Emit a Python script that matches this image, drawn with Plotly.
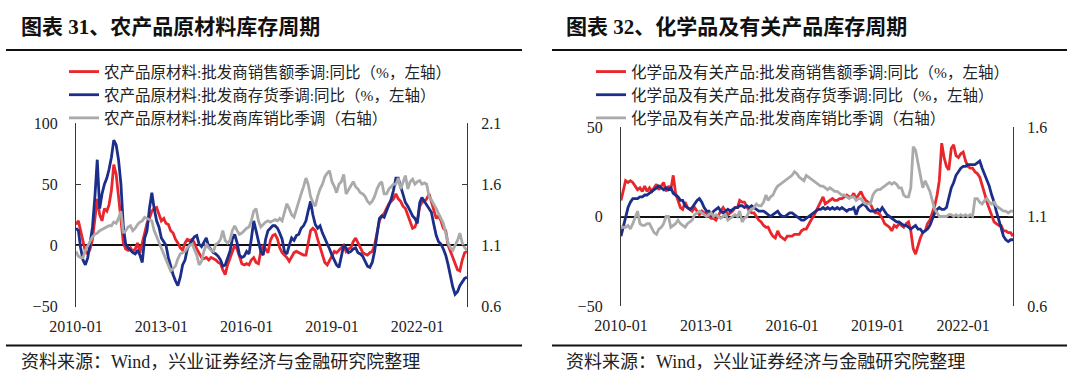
import plotly.graph_objects as go
import pandas as pd

# ---------------- data ----------------
months = pd.date_range("2010-01-01", "2023-10-01", freq="MS").strftime("%Y-%m-%d").tolist()
tick_vals = ["2010-01-01", "2013-01-01", "2016-01-01", "2019-01-01", "2022-01-01"]
tick_text = ["2010-01", "2013-01", "2016-01", "2019-01", "2022-01"]

# 农产品原材料
agri_sales = [
    17, 20, 12, 2, -5, -7, -3, 5, 22, 38, 25, 20,
    30, 28, 33, 45, 66, 58, 40, 22, 2, -3, -4, -2,
    -5, -3, 2, -6, 3, 10, 18, 22, 28, 30, 31, 25,
    20, 22, 18, 17, 12, 10, 5, 2, -2, -4, 2, 5,
    4, 5, 2, -3, -7, -10, -11, -10, -12, -10, -11, -12,
    -14, -15, -20, -24, -16, -10, -5, 0, -3, -10, -15, -16,
    -15, -16, -12, -10, -14, -15, -5, 0, -3, -6, 4, 8,
    9, 5, -2, -6, -8, -10, -13, -10, -6, -5, -6, -7,
    -8, -8, 3, 12, 14, 12, 5, -2, -8, -14, -16, -12,
    -8, -5, -6, -4, -2, 0, -5, -3, -2, 3, 6, 2,
    -2, -6, -7, -8, -6, -5, 0, 10, 20, 24, 26, 30,
    34, 36, 38, 42, 38, 36, 32, 30, 25, 20, 14, 15,
    20, 32, 35, 36, 38, 42, 36, 30, 22, 24, 20, 14,
    12, 0, -5, -9, -15, -20, -21, -12, -6, -5,
]
agri_inv = [
    14, 12, -2, -12, -16, -10, 2, 15, 40, 70, 30, 42,
    50, 55, 62, 72, 86, 82, 70, 50, 15, 1, -2, -4,
    -6, -7, -4, -8, -14, 6, 12, 30, 43, 30, 20, 15,
    6, 3, 0, -10, -18, -24, -29, -33, -26, -16, -12, -3,
    1, 4, 7, 8, 1, -1, 2, 6, -1, -4, -6, -7,
    -9, -12, -17, -16, -10, -5, 5, 9, 2, -8, -10, -9,
    -5, -7, 5, 20, 12, 2, -5, -8, 5, 12, 14, 16,
    16, 14, 10, 5, -5, -7, 0, 6, 4, 8, 9, 14,
    16, 20, 28, 36, 25, 17, 14, 16, 10, 6, 1, -3,
    -8, -12, -16, -18, -8, 0, -2, -6, -5, -3, -2, -6,
    -7, -9, -13, -17, -18, -14, -5, 8, 22, 24, 23, 28,
    33, 38, 45, 55, 55, 48, 40, 35, 32, 28, 24, 22,
    18, 35, 39, 36, 33, 30, 27, 17, 8, 3, 1, -3,
    -8, -16, -26, -34, -40, -38, -33, -30, -27, -26,
]
agri_ratio = [
    1.05, 1.01, 1.00, 1.00, 1.06, 1.10, 1.14, 1.17, 1.19, 1.20, 1.22, 1.23,
    1.24, 1.25, 1.26, 1.26, 1.29, 1.28, 1.32, 1.38, 1.20, 1.22, 1.25, 1.26,
    1.22, 1.24, 1.27, 1.29, 1.30, 1.33, 1.32, 1.31, 1.30, 1.22, 1.17, 1.12,
    1.07, 1.03, 0.98, 0.94, 0.89, 0.91, 0.93, 0.99, 1.03, 1.04, 1.05, 1.08,
    1.10, 1.11, 1.06, 1.02, 0.94, 0.97, 1.05, 1.11, 1.08, 1.06, 1.05, 1.11,
    1.12, 1.15, 1.22, 1.14, 1.12, 1.14, 1.22, 1.26, 1.22, 1.19, 1.20, 1.22,
    1.24, 1.25, 1.30, 1.38, 1.40, 1.30, 1.25, 1.27, 1.29, 1.30, 1.29, 1.30,
    1.31, 1.30, 1.32, 1.30, 1.36, 1.44, 1.40, 1.35, 1.33, 1.40, 1.46, 1.52,
    1.58, 1.65, 1.60, 1.50, 1.45, 1.42, 1.50, 1.56, 1.60, 1.66, 1.69, 1.71,
    1.62, 1.58, 1.53, 1.60, 1.62, 1.68, 1.52, 1.55, 1.58, 1.62, 1.58, 1.56,
    1.53, 1.52, 1.50, 1.46, 1.44, 1.46, 1.50, 1.56, 1.60, 1.62, 1.52, 1.52,
    1.56, 1.58, 1.60, 1.60, 1.65, 1.56, 1.62, 1.67, 1.56, 1.62, 1.64, 1.60,
    1.62, 1.63, 1.60, 1.61, 1.60, 1.50, 1.47, 1.44, 1.40, 1.36, 1.32, 1.28,
    1.20, 1.12, 1.08, 1.06, 1.10, 1.14, 1.20, 1.12, 1.08, 1.06,
]

# 化学品及有关产品
chem_sales = [
    9, 15, 20, 19, 20, 19, 17, 15, 16, 14, 17, 14,
    16, 14, 16, 18, 15, 17, 19, 14, 17, 15, 23, 13,
    9, 5, 4, 8, 5, 4, 3, 5, 3, 1, 3, 2,
    2, 0, -1, -1, -2, 1, 3, 5, 3, 1, 2, 3,
    5, 5, 9, 8, 8, 5, 3, 2, 2, 0, -2, -3,
    -5, -6, -6, -9, -11, -12, -8, -11, -12, -13, -11, -11,
    -11, -10, -10, -10, -8, -7, -7, -4, -2, 0, 3, 6,
    9, 11, 7, 8, 9, 10, 9, 9, 10, 10, 11, 12,
    11, 11, 13, 10, 12, 14, 11, 9, 8, 7, 4, 2,
    2, 1, -1, -4, -5, -6, -8, -5, -6, -4, -5, -6,
    -4, -3, -8, -18, -21, -16, -12, -9, -8, -4, -2, 2,
    6, 12, 20, 41, 33, 28, 26, 38, 40, 34, 33, 35,
    36, 31, 28, 27, 27, 25, 24, 22, 18, 13, 8, 4,
    0, -3, -4, -5, -5, -8, -8, -9, -9, -11,
]
chem_inv = [
    -11, -6, 0, 5, 8, 10, 10, 10, 11, 11, 12, 12,
    13, 14, 15, 16, 17, 16, 15, 16, 15, 16, 13, 12,
    11, 9, 9, 6, 5, 4, 5, 7, 9, 10, 8, 5,
    3, 3, 1, 3, 4, 5, 3, 2, 3, 4, 3, 4,
    5, 5, 6, 6, 5, 6, 5, 6, 5, 4, 3, 3,
    3, 2, 1, 0, 1, 2, 3, 1, 0, 0, 1, 2,
    2, 1, 0, -1, -2, -2, -1, 0, 1, 2, 3, 4,
    4, 5, 4, 5, 4, 5, 4, 5, 4, 5, 4, 3,
    4, 4, 5, 1, 5, 6, 7, 6, 4, 3, 3, 3,
    4, 3, 5, 3, 1, 0, -1, -2, -3, -3, -4, -5,
    -5, -6, -7, -6, -5, -7, -7, -9, -8, -7, -5, -2,
    2, 4, 5, 4, 4, 5, 10, 16, 19, 23, 25, 27,
    28, 28, 29, 29, 29, 29, 30, 31, 27, 24, 20, 17,
    12, 8, 3, -2, -7, -11, -13, -14, -13, -13,
]
chem_ratio = [
    1.04, 1.04, 1.04, 1.05, 1.03, 1.06, 1.09, 1.13, 1.06, 1.05, 1.05, 1.06,
    1.06, 1.03, 1.01, 1.00, 1.03, 1.04, 1.06, 1.10, 1.10, 1.04, 1.05, 1.06,
    1.08, 1.06, 1.05, 1.04, 1.06, 1.07, 1.08, 1.11, 1.12, 1.13, 1.12, 1.11,
    1.10, 1.11, 1.12, 1.10, 1.11, 1.10, 1.09, 1.10, 1.11, 1.08, 1.09, 1.10,
    1.11, 1.10, 1.13, 1.07, 1.09, 1.10, 1.13, 1.14, 1.15, 1.17, 1.16, 1.16,
    1.18, 1.22, 1.19, 1.21, 1.22, 1.25, 1.27, 1.28, 1.29, 1.30, 1.31, 1.32,
    1.33, 1.35, 1.34, 1.32, 1.31, 1.30, 1.33, 1.32, 1.31, 1.30, 1.29, 1.28,
    1.27, 1.27, 1.26, 1.25, 1.26, 1.25, 1.24, 1.24, 1.23, 1.22, 1.22, 1.21,
    1.20, 1.21, 1.21, 1.19, 1.20, 1.20, 1.18, 1.17, 1.17, 1.17, 1.22, 1.24,
    1.25, 1.25, 1.26, 1.27, 1.28, 1.29, 1.28, 1.29, 1.28, 1.26, 1.26, 1.22,
    1.21, 1.21, 1.26, 1.49, 1.47, 1.40, 1.32, 1.26, 1.30, 1.27, 1.24, 1.19,
    1.14, 1.12, 1.10, 1.10, 1.10, 1.10, 1.11, 1.11, 1.10, 1.11, 1.10, 1.11,
    1.10, 1.11, 1.10, 1.11, 1.10, 1.20, 1.20, 1.18, 1.17, 1.19, 1.20, 1.18,
    1.17, 1.18, 1.16, 1.15, 1.14, 1.13, 1.13, 1.12, 1.13, 1.13,
]

left_ticks = [-50, 0, 50, 100]
left_right_ticks = [0.6, 1.1, 1.6, 2.1]
right_ticks = [-50, 0, 50]
right_right_ticks = [0.6, 1.1, 1.6]

names_left = ["农产品原材料:批发商销售额季调:同比（%，左轴）",
              "农产品原材料:批发商存货季调:同比（%，左轴）",
              "农产品原材料:批发商库销比季调（右轴）"]
names_right = ["化学品及有关产品:批发商销售额季调:同比（%，左轴）",
               "化学品及有关产品:批发商存货季调:同比（%，左轴）",
               "化学品及有关产品:批发商库销比季调（右轴）"]
titles = ["图表 31、农产品原材料库存周期", "图表 32、化学品及有关产品库存周期"]
source_text = "资料来源：Wind，兴业证券经济与金融研究院整理"

# ---------------- style ----------------
RED = "#E8262B"
BLUE = "#1B2E8A"
GRAY = "#AAAAAA"
AX = "#3A3A3A"
SERIF = "Liberation Serif, Noto Sans CJK SC"
LW = 2.8
W, H = 1080, 385

def px_x(p):
    return p / W

def px_y(p):
    return 1 - p / H

fig = go.Figure()

fig.add_trace(go.Scatter(x=months, y=agri_sales, name=names_left[0], mode="lines",
                         line=dict(color=RED, width=LW), xaxis="x", yaxis="y", legend="legend"))
fig.add_trace(go.Scatter(x=months, y=agri_inv, name=names_left[1], mode="lines",
                         line=dict(color=BLUE, width=LW), xaxis="x", yaxis="y", legend="legend"))
fig.add_trace(go.Scatter(x=months, y=agri_ratio, name=names_left[2], mode="lines",
                         line=dict(color=GRAY, width=LW), xaxis="x", yaxis="y2", legend="legend"))

fig.add_trace(go.Scatter(x=months, y=chem_sales, name=names_right[0], mode="lines",
                         line=dict(color=RED, width=LW), xaxis="x2", yaxis="y3", legend="legend2"))
fig.add_trace(go.Scatter(x=months, y=chem_inv, name=names_right[1], mode="lines",
                         line=dict(color=BLUE, width=LW), xaxis="x2", yaxis="y3", legend="legend2"))
fig.add_trace(go.Scatter(x=months, y=chem_ratio, name=names_right[2], mode="lines",
                         line=dict(color=GRAY, width=LW), xaxis="x2", yaxis="y4", legend="legend2"))

# plot areas (pixels)
L_x0, L_x1, L_y0, L_y1 = 76, 467, 123, 306.5
R_x0, R_x1, R_y0, R_y1 = 621, 1013, 127, 306
dom_L_x = [px_x(L_x0), px_x(L_x1)]
dom_L_y = [px_y(L_y1), px_y(L_y0)]
dom_R_x = [px_x(R_x0), px_x(R_x1)]
dom_R_y = [px_y(R_y1), px_y(R_y0)]

xrange = [months[0], months[-1]]
tickfont = dict(family=SERIF, size=16, color="#222222")

xbase = dict(range=xrange, tickvals=tick_vals, ticktext=tick_text, showgrid=False,
             showline=False, ticks="", zeroline=False, tickfont=tickfont, ticklabelstandoff=8,
             fixedrange=True, automargin=False)
ybase = dict(showgrid=False, showline=True, linecolor=AX, linewidth=1.3, ticks="inside",
             ticklen=5, tickcolor=AX, tickwidth=1.3, tickfont=tickfont, fixedrange=True,
             automargin=False)

# zero-line x ticks
zero_L = dom_L_y[0] + (dom_L_y[1] - dom_L_y[0]) * (50 / 150)
zero_R = dom_R_y[0] + (dom_R_y[1] - dom_R_y[0]) * 0.5

legend_font = dict(family=SERIF, size=15.5, color="#222222")

fig.update_layout(
    width=W, height=H,
    margin=dict(l=0, r=0, t=0, b=0, autoexpand=False),
    paper_bgcolor="white", plot_bgcolor="white",
    showlegend=True,
    xaxis=dict(domain=dom_L_x, anchor="y", **xbase),
    yaxis=dict(domain=dom_L_y, anchor="x", range=[-50, 100], tickvals=left_ticks,
               zeroline=True, zerolinecolor="#111111", zerolinewidth=1.5,
               ticklabelstandoff=14, **ybase),
    yaxis2=dict(overlaying="y", side="right", anchor="x", range=[0.6, 2.1],
                tickvals=left_right_ticks, ticktext=[f"{v:.1f}" for v in left_right_ticks],
                zeroline=False, ticklabelstandoff=10, **ybase),
    xaxis2=dict(domain=dom_R_x, anchor="y3", **xbase),
    yaxis3=dict(domain=dom_R_y, anchor="x2", range=[-50, 50], tickvals=right_ticks,
                zeroline=True, zerolinecolor="#111111", zerolinewidth=1.5,
                ticklabelstandoff=14, **ybase),
    yaxis4=dict(overlaying="y3", side="right", anchor="x2", range=[0.6, 1.6],
                tickvals=right_right_ticks, ticktext=[f"{v:.1f}" for v in right_right_ticks],
                zeroline=False, ticklabelstandoff=10, **ybase),
    xaxis3=dict(overlaying="x", matches="x", anchor="free", position=zero_L,
                tickvals=tick_vals, showticklabels=False, ticks="inside", ticklen=4,
                tickcolor="#111111", tickwidth=1.2, showgrid=False, showline=False,
                zeroline=False, fixedrange=True, automargin=False),
    xaxis4=dict(overlaying="x2", matches="x2", anchor="free", position=zero_R,
                tickvals=tick_vals, showticklabels=False, ticks="inside", ticklen=4,
                tickcolor="#111111", tickwidth=1.2, showgrid=False, showline=False,
                zeroline=False, fixedrange=True, automargin=False),
    legend=dict(x=px_x(64), y=px_y(55), xanchor="left", yanchor="top",
                font=legend_font, bgcolor="rgba(0,0,0,0)", tracegroupgap=0,
                itemwidth=30, traceorder="normal"),
    legend2=dict(x=px_x(591), y=px_y(55), xanchor="left", yanchor="top",
                 font=legend_font, bgcolor="rgba(0,0,0,0)", tracegroupgap=0,
                 itemwidth=30, traceorder="normal"),
)

# titles
for txt, xpx in zip(titles, [19, 564]):
    fig.add_annotation(text=f"<b>{txt}</b>", x=px_x(xpx), y=px_y(27), xref="paper", yref="paper",
                       xanchor="left", yanchor="middle", showarrow=False,
                       font=dict(family=SERIF, size=21, color="#111111"))
# source notes
for xpx in [19, 564]:
    fig.add_annotation(text=source_text, x=px_x(xpx), y=px_y(362), xref="paper", yref="paper",
                       xanchor="left", yanchor="middle", showarrow=False,
                       font=dict(family=SERIF, size=18, color="#222222"))

# rules
for (x0, x1) in [(6, 522), (552, 1067)]:
    for yy in [50, 345.5]:
        fig.add_shape(type="line", xref="paper", yref="paper",
                      x0=px_x(x0), x1=px_x(x1), y0=px_y(yy), y1=px_y(yy),
                      line=dict(color="#111111", width=2))

for arr in [agri_sales, agri_inv, agri_ratio, chem_sales, chem_inv, chem_ratio]:
    assert len(arr) == len(months), len(arr)

fig.write_html("out.html", config={"displayModeBar": False},
               post_script="document.body.style.margin='0px';document.body.style.overflow='hidden';")
